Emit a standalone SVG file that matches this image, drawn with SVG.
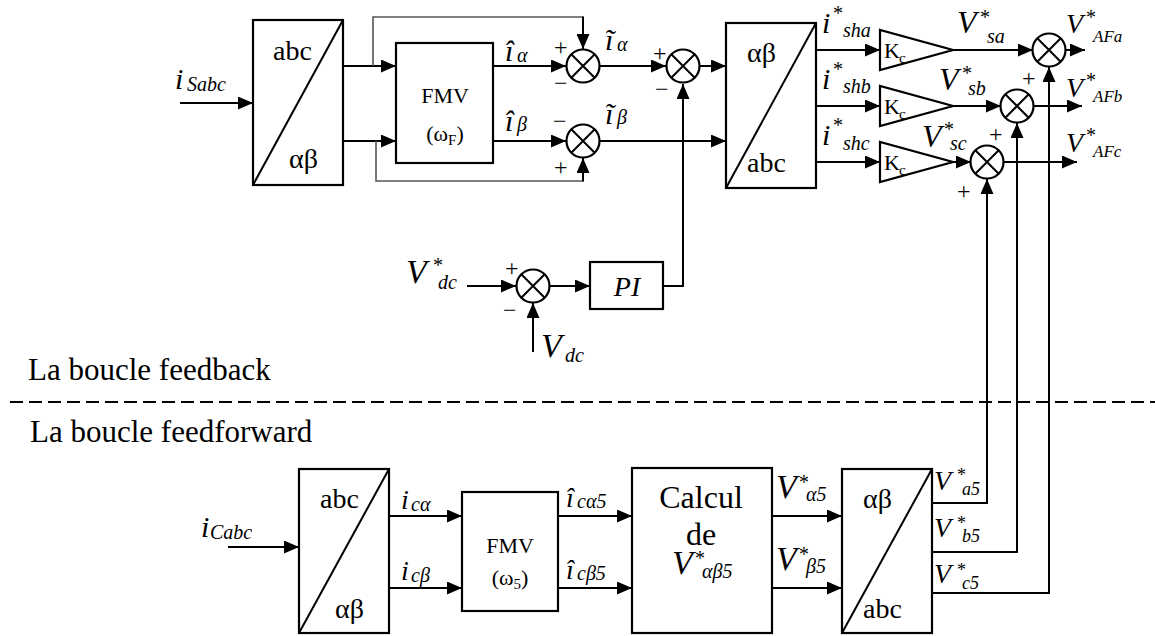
<svg xmlns="http://www.w3.org/2000/svg" xmlns:xlink="http://www.w3.org/1999/xlink" width="1155" height="636" viewBox="0 0 1155 636">
<style>
.ln{stroke:#000;stroke-width:2;fill:none}
.gr{stroke:#555;stroke-width:1.6;fill:none}
.box{stroke:#000;stroke-width:2.2;fill:#fff}
text{font-family:"Liberation Serif","Times New Roman",serif;fill:#000}
.it{font-style:italic}
.blk{font-size:28px}
.sg{font-size:24px}
.sub{font-size:20px;font-style:italic}
.st{font-size:20px}
</style>
<defs>
<marker id="ah" markerUnits="userSpaceOnUse" markerWidth="15" markerHeight="13" refX="15" refY="6.5" orient="auto">
<path d="M0,0 L15,6.5 L0,13 z" fill="#000"/>
</marker>
<g id="sum">
<circle cx="0" cy="0" r="16.5" fill="#fff" stroke="#000" stroke-width="2.2"/>
<path d="M-11.7,-11.7 L11.7,11.7 M-11.7,11.7 L11.7,-11.7" stroke="#000" stroke-width="2"/>
</g>
</defs>
<rect width="1155" height="636" fill="#fff"/>

<g id="connectors">
<line class="ln" x1="180" y1="103" x2="253" y2="103" marker-end="url(#ah)"/>
<line class="ln" x1="343" y1="66" x2="396" y2="66" marker-end="url(#ah)"/>
<line class="ln" x1="343" y1="141" x2="396" y2="141" marker-end="url(#ah)"/>
<polyline class="gr" points="373,66 373,17 583,17"/>
<line class="ln" x1="583" y1="16.5" x2="583" y2="49" marker-end="url(#ah)"/>
<polyline class="gr" points="376,141 376,181 583,181"/>
<line class="ln" x1="583" y1="181.5" x2="583" y2="158" marker-end="url(#ah)"/>
<line class="ln" x1="493" y1="66" x2="566" y2="66" marker-end="url(#ah)"/>
<line class="ln" x1="493" y1="141" x2="566" y2="141" marker-end="url(#ah)"/>
<line class="ln" x1="600" y1="66" x2="666" y2="66" marker-end="url(#ah)"/>
<line class="ln" x1="700" y1="66" x2="726" y2="66" marker-end="url(#ah)"/>
<line class="ln" x1="600" y1="141" x2="726" y2="141" marker-end="url(#ah)"/>
<polyline class="ln" points="663,286 683,286 683,84" marker-end="url(#ah)"/>
<line class="ln" x1="816" y1="50" x2="880" y2="50" marker-end="url(#ah)"/>
<line class="ln" x1="816" y1="106" x2="880" y2="106" marker-end="url(#ah)"/>
<line class="ln" x1="816" y1="162" x2="880" y2="162" marker-end="url(#ah)"/>
<line class="ln" x1="953" y1="50" x2="1033" y2="50" marker-end="url(#ah)"/>
<line class="ln" x1="953" y1="106" x2="1001" y2="106" marker-end="url(#ah)"/>
<line class="ln" x1="953" y1="162" x2="971" y2="162" marker-end="url(#ah)"/>
<line class="ln" x1="1065" y1="50" x2="1085" y2="50" marker-end="url(#ah)"/>
<line class="ln" x1="1033" y1="106" x2="1082" y2="106" marker-end="url(#ah)"/>
<line class="ln" x1="1003" y1="162" x2="1077" y2="162" marker-end="url(#ah)"/>
<polyline class="ln" points="932,503 987,503 987,179" marker-end="url(#ah)"/>
<polyline class="ln" points="932,552 1017,552 1017,123" marker-end="url(#ah)"/>
<polyline class="ln" points="932,593 1049,593 1049,67" marker-end="url(#ah)"/>
<line class="ln" x1="467" y1="286" x2="516" y2="286" marker-end="url(#ah)"/>
<line class="ln" x1="550" y1="286" x2="590" y2="286" marker-end="url(#ah)"/>
<line class="ln" x1="533" y1="352" x2="533" y2="303" marker-end="url(#ah)"/>
<line class="ln" x1="228" y1="547" x2="299" y2="547" marker-end="url(#ah)"/>
<line class="ln" x1="389" y1="516" x2="462" y2="516" marker-end="url(#ah)"/>
<line class="ln" x1="389" y1="588" x2="462" y2="588" marker-end="url(#ah)"/>
<line class="ln" x1="558" y1="516" x2="632" y2="516" marker-end="url(#ah)"/>
<line class="ln" x1="558" y1="588" x2="632" y2="588" marker-end="url(#ah)"/>
<line class="ln" x1="772" y1="516" x2="842" y2="516" marker-end="url(#ah)"/>
<line class="ln" x1="772" y1="588" x2="842" y2="588" marker-end="url(#ah)"/>
</g>

<g id="abc-ab-1">
<rect class="box" x="253" y="20" width="90" height="165"/>
<line class="ln" x1="253" y1="185" x2="343" y2="20"/>
<text class="blk" x="273" y="60">abc</text>
<text class="blk" x="289" y="168">αβ</text>
</g>
<g id="fmv-f">
<rect class="box" x="396" y="43" width="97" height="120"/>
<text x="445" y="103" font-size="22" text-anchor="middle">FMV</text>
<text x="445" y="141" font-size="22" text-anchor="middle">(ω<tspan font-size="15" dy="4">F</tspan><tspan dy="-4">)</tspan></text>
</g>
<g id="sum1"><use xlink:href="#sum" x="583" y="66"/></g>
<g id="sum2"><use xlink:href="#sum" x="683" y="66"/></g>
<g id="sum3"><use xlink:href="#sum" x="583" y="141"/></g>
<g id="ab-abc-1">
<rect class="box" x="726" y="23" width="90" height="165"/>
<line class="ln" x1="726" y1="188" x2="816" y2="23"/>
<text class="blk" x="747" y="62">αβ</text>
<text class="blk" x="747" y="172">abc</text>
</g>
<g id="gain-a">
<polygon class="box" points="880,30 880,70 953,50"/>
<text x="884" y="58" font-size="22">K</text><text x="899" y="63" font-size="15">c</text>
</g>
<g id="gain-b">
<polygon class="box" points="880,86 880,126 953,106"/>
<text x="884" y="114" font-size="22">K</text><text x="899" y="119" font-size="15">c</text>
</g>
<g id="gain-c">
<polygon class="box" points="880,142 880,182 953,162"/>
<text x="884" y="170" font-size="22">K</text><text x="899" y="175" font-size="15">c</text>
</g>
<g id="sum-a"><use xlink:href="#sum" x="1049" y="50"/></g>
<g id="sum-b"><use xlink:href="#sum" x="1017" y="106"/></g>
<g id="sum-c"><use xlink:href="#sum" x="987" y="162"/></g>
<g id="sum-dc"><use xlink:href="#sum" x="533" y="286"/></g>
<g id="pi">
<rect class="box" x="590" y="262" width="73" height="47"/>
<text x="627" y="296" font-size="28" class="it" text-anchor="middle">PI</text>
</g>
<g id="abc-ab-2">
<rect class="box" x="299" y="469" width="90" height="164"/>
<line class="ln" x1="299" y1="633" x2="389" y2="469"/>
<text class="blk" x="320" y="508">abc</text>
<text class="blk" x="335" y="618">αβ</text>
</g>
<g id="fmv-5">
<rect class="box" x="462" y="492" width="96" height="119"/>
<text x="510" y="553" font-size="22" text-anchor="middle">FMV</text>
<text x="510" y="585" font-size="22" text-anchor="middle">(ω<tspan font-size="15" dy="4">5</tspan><tspan dy="-4">)</tspan></text>
</g>
<g id="calcul">
<rect class="box" x="632" y="468" width="140" height="165"/>
<text x="701" y="508" font-size="32" text-anchor="middle">Calcul</text>
<text x="701" y="545" font-size="32" text-anchor="middle">de</text>
<text x="672" y="574" font-size="34" class="it">V</text>
<text x="695" y="565" class="st">*</text>
<text x="702" y="578" class="sub">αβ5</text>
</g>
<g id="ab-abc-2">
<rect class="box" x="842" y="469" width="90" height="164"/>
<line class="ln" x1="842" y1="633" x2="932" y2="469"/>
<text class="blk" x="863" y="508">αβ</text>
<text class="blk" x="863" y="618">abc</text>
</g>

<g id="labels">
<text x="175" y="89" font-size="30" class="it">i</text><text x="187" y="91" class="sub">Sabc</text>
<text x="505" y="61" font-size="30" class="it">î</text><text x="517" y="62" class="sub">α</text>
<text x="505" y="131" font-size="30" class="it">î</text><text x="517" y="131" class="sub">β</text>
<text x="605" y="50" font-size="30" class="it">ĩ</text><text x="617" y="51" class="sub">α</text>
<text x="605" y="124" font-size="30" class="it">ĩ</text><text x="617" y="124" class="sub">β</text>
<text class="sg" x="554" y="55">+</text><text class="sg" x="554" y="91">−</text>
<text class="sg" x="553" y="129">−</text><text class="sg" x="554" y="175">+</text>
<text class="sg" x="653" y="61">+</text><text class="sg" x="655" y="97">−</text>
<text x="822" y="33" font-size="30" class="it">i</text><text x="833" y="20" class="st">*</text><text x="843" y="37" class="sub">sha</text>
<text x="822" y="89" font-size="30" class="it">i</text><text x="833" y="76" class="st">*</text><text x="843" y="93" class="sub">shb</text>
<text x="822" y="145" font-size="30" class="it">i</text><text x="833" y="132" class="st">*</text><text x="843" y="150" class="sub">shc</text>
<text x="957" y="33" font-size="32" class="it">V</text><text x="980" y="24" class="st">*</text><text x="987" y="43" class="sub">sa</text>
<text x="939" y="90" font-size="32" class="it">V</text><text x="962" y="80" class="st">*</text><text x="968" y="95" class="sub">sb</text>
<text x="922" y="147" font-size="32" class="it">V</text><text x="944" y="136" class="st">*</text><text x="950" y="150" class="sub">sc</text>
<text x="1066" y="33" font-size="28" class="it">V</text><text x="1086" y="24" class="st">*</text><text x="1093" y="42" font-size="17" class="it">AFa</text>
<text x="1066" y="97" font-size="28" class="it">V</text><text x="1086" y="87" class="st">*</text><text x="1093" y="102" font-size="17" class="it">AFb</text>
<text x="1066" y="152" font-size="28" class="it">V</text><text x="1086" y="142" class="st">*</text><text x="1093" y="157" font-size="17" class="it">AFc</text>
<text class="sg" x="1022" y="86">+</text>
<text class="sg" x="989" y="142">+</text>
<text class="sg" x="957" y="199">+</text>
<text x="406" y="283" font-size="34" class="it">V</text><text x="433" y="272" class="st">*</text><text x="438" y="289" class="sub">dc</text>
<text class="sg" x="505" y="276">+</text><text class="sg" x="503" y="318">−</text>
<text x="541" y="357" font-size="34" class="it">V</text><text x="565" y="362" class="sub">dc</text>
<text x="28" y="380" font-size="31">La boucle feedback</text>
<line x1="10" y1="402" x2="1155" y2="402" stroke="#000" stroke-width="2" stroke-dasharray="13 6"/>
<text x="30" y="442" font-size="31">La boucle feedforward</text>
<text x="201" y="537" font-size="30" class="it">i</text><text x="210" y="539" class="sub">Cabc</text>
<text x="401" y="509" font-size="28" class="it">i</text><text x="411" y="511" class="sub">cα</text>
<text x="401" y="580" font-size="28" class="it">i</text><text x="411" y="582" class="sub">cβ</text>
<text x="566" y="507" font-size="28" class="it">î</text><text x="577" y="508" class="sub">cα5</text>
<text x="566" y="579" font-size="28" class="it">î</text><text x="577" y="580" class="sub">cβ5</text>
<text x="776" y="498" font-size="34" class="it">V</text><text x="799" y="489" class="st">*</text><text x="806" y="501" class="sub">α5</text>
<text x="776" y="570" font-size="34" class="it">V</text><text x="799" y="561" class="st">*</text><text x="806" y="573" class="sub">β5</text>
<text x="934" y="490" font-size="28" class="it">V</text><text x="957" y="481" font-size="18">*</text><text x="962" y="495" font-size="18" class="it">a5</text>
<text x="934" y="537" font-size="28" class="it">V</text><text x="957" y="529" font-size="18">*</text><text x="962" y="542" font-size="18" class="it">b5</text>
<text x="934" y="583" font-size="28" class="it">V</text><text x="957" y="576" font-size="18">*</text><text x="962" y="589" font-size="18" class="it">c5</text>
</g>
</svg>
